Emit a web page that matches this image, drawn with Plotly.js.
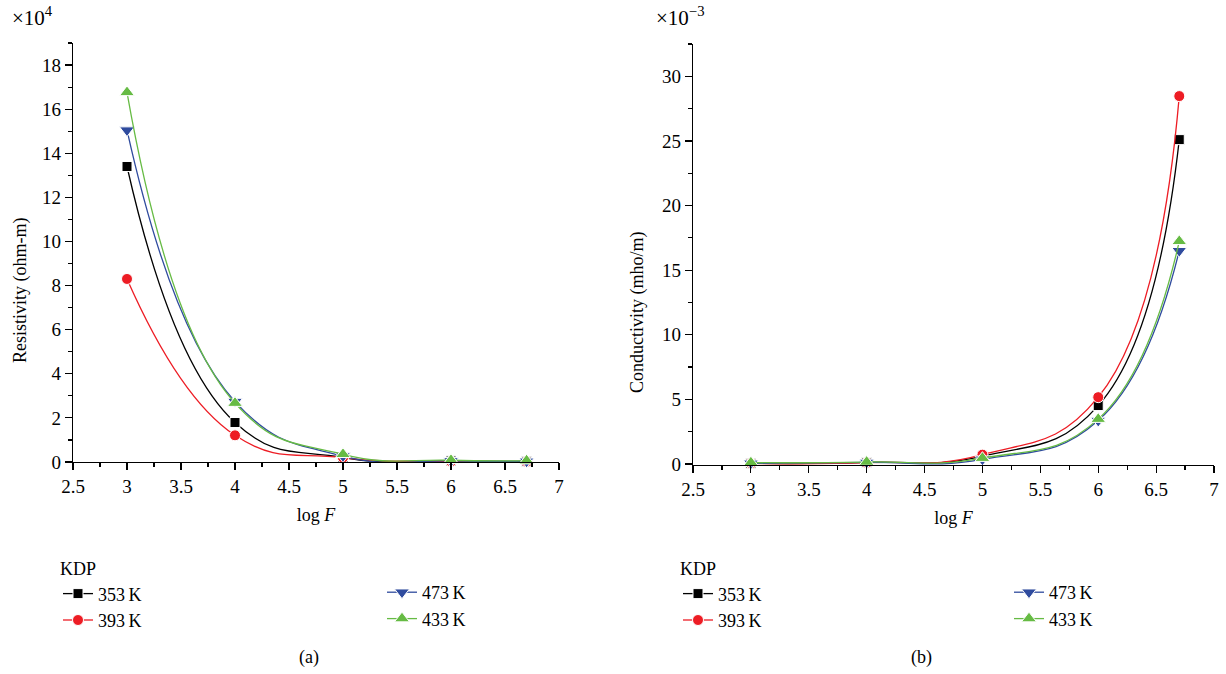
<!DOCTYPE html>
<html>
<head>
<meta charset="utf-8">
<script src="https://cdn.plot.ly/plotly-3.0.1.min.js"></script>
<style>html,body{margin:0;padding:0;background:#fff;}#chart{width:1226px;height:674px;}</style>
</head>
<body>
<div id="chart"></div>
<script>
const logF = [3, 4, 5, 6, 6.7];
const seriesNames = ['353\u2009K', '393\u2009K', '473\u2009K', '433\u2009K'];
// Resistivity (x10^4 ohm-m)
const res353 = [13.4, 1.79, 0.2, 0.05, 0.03];
const res393 = [8.3, 1.21, 0.2, 0.03, 0.02];
const res473 = [15.05, 2.74, 0.27, 0.05, 0.03];
const res433 = [16.76, 2.67, 0.35, 0.08, 0.06];
// Conductivity (x10^-3 mho/m)
const con353 = [0.05, 0.12, 0.6, 4.52, 25.1];
const con393 = [0.05, 0.1, 0.72, 5.17, 28.47];
const con473 = [0.05, 0.12, 0.36, 3.36, 16.5];
const con433 = [0.1, 0.15, 0.45, 3.47, 17.23];

const colors = ['#000000', '#ed1c24', '#2f4b9e', '#66bb44'];
const symbols = ['square', 'circle', 'triangle-down', 'triangle-up'];
const sizes = [10, 11, 13, 13];
const FONT = 'Liberation Serif, Times New Roman, serif';

function mk(x, y, i, xa, ya, leg) {
  return {
    x: x, y: y, xaxis: xa, yaxis: ya, name: seriesNames[i], legend: leg,
    type: 'scatter', mode: 'lines+markers',
    line: {color: colors[i], width: 1.3, shape: 'spline', smoothing: 1.3},
    marker: {symbol: symbols[i], size: sizes[i], color: colors[i], line: {color: '#fff', width: 1}},
    cliponaxis: false
  };
}
const resSeries = [res353, res393, res473, res433];
const conSeries = [con353, con393, con473, con433];
const traces = [];
const legL = ['legend', 'legend', 'legend2', 'legend2'];
const legR = ['legend3', 'legend3', 'legend4', 'legend4'];
resSeries.forEach((s, i) => traces.push(mk(logF, s, i, 'x', 'y', legL[i])));
conSeries.forEach((s, i) => traces.push(mk(logF, s, i, 'x2', 'y2', legR[i])));

const W = 1226, H = 674;
const axisCommon = {
  showgrid: false, zeroline: false, showline: true, linecolor: '#000', linewidth: 1.3,
  ticks: 'outside', ticklen: 7, tickwidth: 1.2, tickcolor: '#000',
  tickfont: {family: FONT, size: 19, color: '#000'},
  minor: {ticks: 'outside', ticklen: 4, tickwidth: 1.2, tickcolor: '#000', showgrid: false}
};
const xAx = (dom, anchor) => Object.assign({}, axisCommon, {
  domain: dom, anchor: anchor, range: [2.5, 7], dtick: 0.5, tick0: 2.5,
  minor: Object.assign({}, axisCommon.minor, {dtick: 0.25}),
  title: {text: 'log <i>F</i>', font: {family: FONT, size: 18, color: '#000'}, standoff: 12}
});
const yAx = (dom, anchor, range, dtick) => Object.assign({}, axisCommon, {
  domain: dom, anchor: anchor, range: range, dtick: dtick, tick0: 0,
  minor: Object.assign({}, axisCommon.minor, {dtick: dtick / 2})
});
const legFont = {family: FONT, size: 18, color: '#000'};
const legBase = {bgcolor: 'rgba(0,0,0,0)', borderwidth: 0, font: legFont, xanchor: 'left', yanchor: 'top', orientation: 'v', itemclick: false};
const txt = (x, y, text, extra) => Object.assign({xref: 'paper', yref: 'paper', x: x / W, y: 1 - y / H,
  xanchor: 'center', yanchor: 'middle', showarrow: false, text: text,
  font: {family: FONT, size: 18, color: '#000'}}, extra || {});

const layout = {
  width: W, height: H, margin: {l: 0, r: 0, t: 0, b: 0},
  paper_bgcolor: '#fff', plot_bgcolor: '#fff',
  font: {family: FONT, color: '#000'},
  xaxis: xAx([73 / W, 559 / W], 'y'),
  yaxis: yAx([1 - 462 / H, 1 - 43 / H], 'x', [0, 19], 2),
  xaxis2: xAx([693 / W, 1214 / W], 'y2'),
  yaxis2: yAx([1 - 465 / H, 1 - 44 / H], 'x2', [-0.08, 32.5], 5),
  legend: Object.assign({}, legBase, {x: 58 / W, y: 1 - 552 / H, title: {text: 'KDP', font: legFont}}),
  legend2: Object.assign({}, legBase, {x: 382 / W, y: 1 - 574 / H}),
  legend3: Object.assign({}, legBase, {x: 678 / W, y: 1 - 552 / H, title: {text: 'KDP', font: legFont}}),
  legend4: Object.assign({}, legBase, {x: 1009 / W, y: 1 - 574 / H}),
  annotations: [
    txt(20, 290, 'Resistivity (ohm-m)', {textangle: -90}),
    txt(637, 312, 'Conductivity (mho/m)', {textangle: -90}),
    txt(10, 16, '\u00d710<sup>4</sup>', {xanchor: 'left', font: {family: FONT, size: 21, color: '#000'}}),
    txt(654, 16, '\u00d710<sup>\u22123</sup>', {xanchor: 'left', font: {family: FONT, size: 21, color: '#000'}}),
    txt(309, 657, '(a)'),
    txt(921, 657, '(b)')
  ]
};
Plotly.newPlot('chart', traces, layout, {displayModeBar: false, staticPlot: true});
</script>
</body>
</html>
